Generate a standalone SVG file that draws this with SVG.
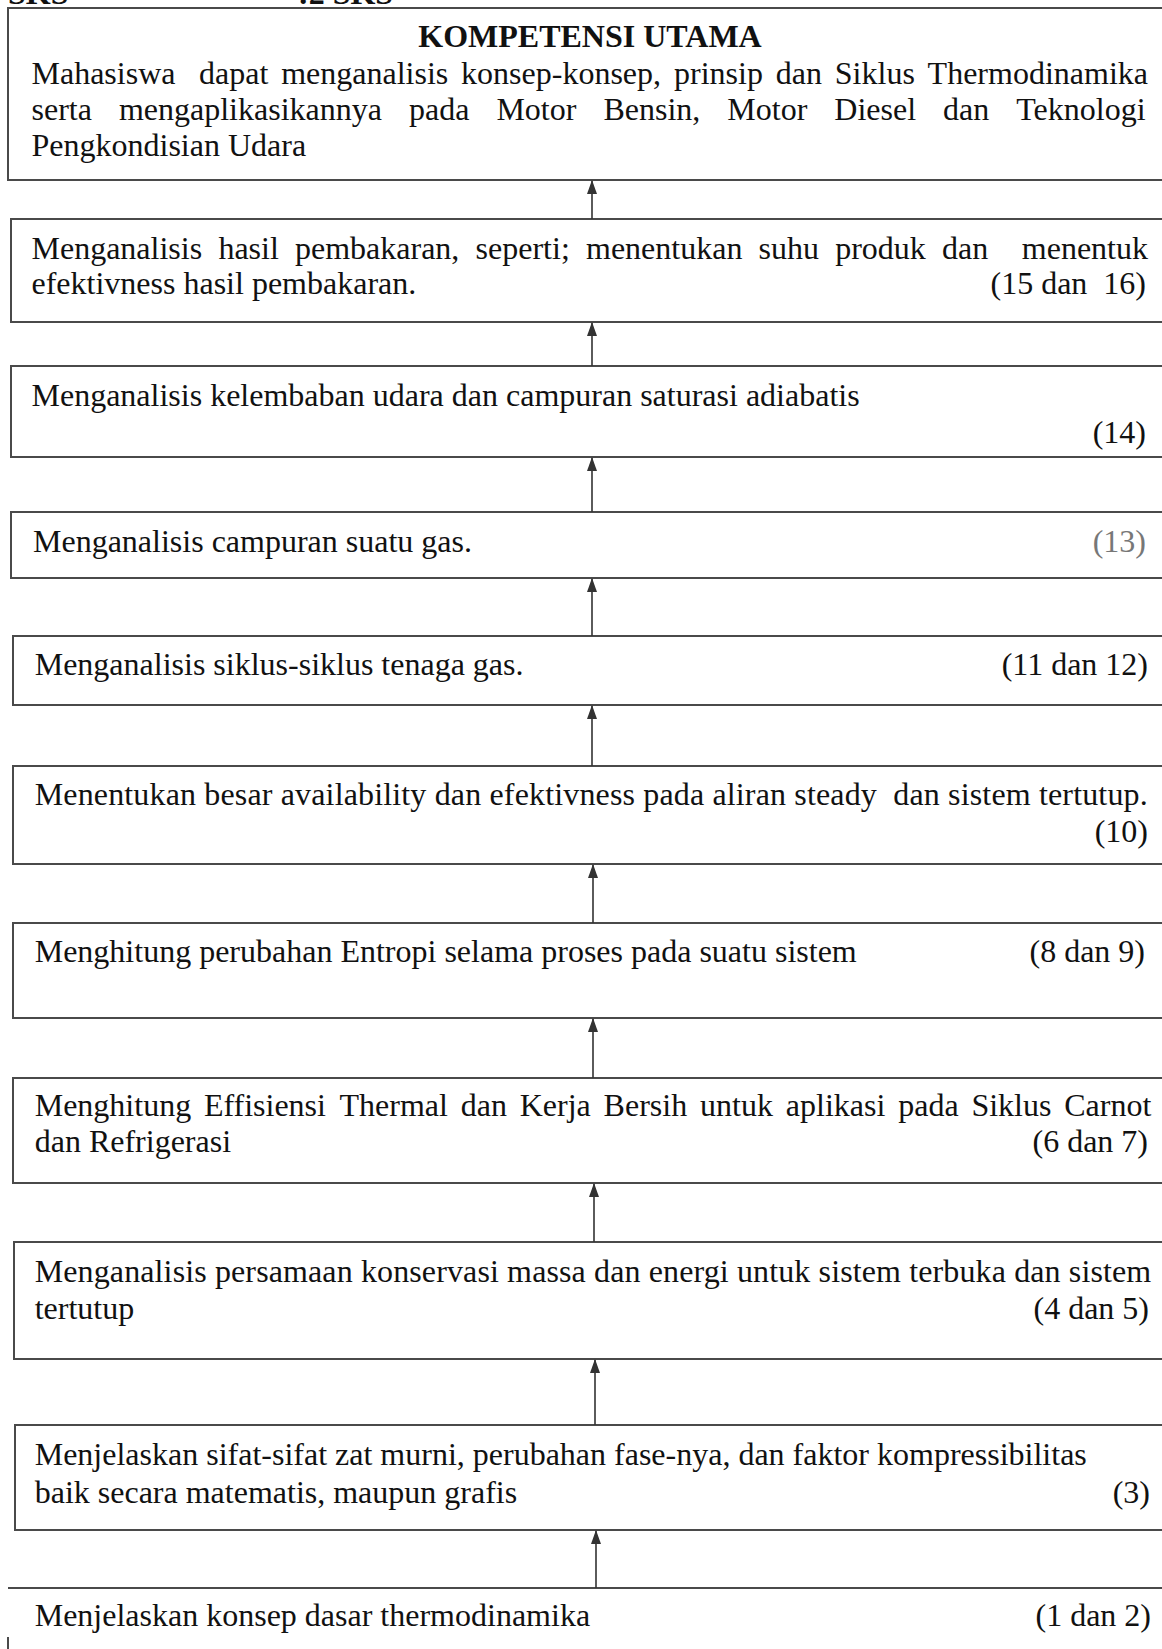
<svg xmlns="http://www.w3.org/2000/svg" width="1162" height="1649" viewBox="0 0 1162 1649">
<style>
.bx{fill:none;stroke:#4a4a4a;stroke-width:2}
.t{font-family:"Liberation Serif","Times New Roman",serif;font-size:32px;fill:#111}
.b{font-weight:bold}
.r{text-anchor:end}
.c{text-anchor:middle}
.ar{stroke:#333;stroke-width:1.6;fill:none}
</style>
<defs>
<marker id="ah" viewBox="0 0 14 10" refX="13" refY="5" markerWidth="14" markerHeight="10" orient="auto" markerUnits="userSpaceOnUse">
<path d="M0,0 L14,5 L0,10 z" fill="#333"/>
</marker>
</defs>
<rect width="1162" height="1649" fill="#fff"/>
<g id="header">
<text class="t b" x="8" y="3.5">SKS</text>
<text class="t b" x="298" y="3.5">:2 SKS</text>
</g>
<g id="n1">
<rect class="bx" x="8" y="8" width="1170" height="172"/>
<text class="t b c" x="590" y="47">KOMPETENSI UTAMA</text>
<text class="t" y="84"><tspan x="31.5">Mahasiswa</tspan><tspan x="199">dapat</tspan><tspan x="281.2">menganalisis</tspan><tspan x="461.1">konsep-konsep,</tspan><tspan x="674">prinsip</tspan><tspan x="775.7">dan</tspan><tspan x="834.8">Siklus</tspan><tspan x="927.6">Thermodinamika</tspan></text>
<text class="t" y="120"><tspan x="31.5">serta</tspan><tspan x="118.9">mengaplikasikannya</tspan><tspan x="409">pada</tspan><tspan x="496.4">Motor</tspan><tspan x="603.4">Bensin,</tspan><tspan x="727.3">Motor</tspan><tspan x="834.3">Diesel</tspan><tspan x="943.1">dan</tspan><tspan x="1016.3">Teknologi</tspan></text>
<text class="t" x="31.5" y="156">Pengkondisian Udara</text>
</g>
<g id="n2">
<rect class="bx" x="11" y="219" width="1170" height="103"/>
<text class="t" y="259"><tspan x="31.5">Menganalisis</tspan><tspan x="218.4">hasil</tspan><tspan x="295">pembakaran,</tspan><tspan x="475.6">seperti;</tspan><tspan x="586">menentukan</tspan><tspan x="758.6">suhu</tspan><tspan x="835.2">produk</tspan><tspan x="942.1">dan</tspan><tspan x="1021.8">menentuk</tspan></text>
<text class="t" x="31.5" y="294">efektivness hasil pembakaran.</text>
<text class="t r" x="1146" y="294" xml:space="preserve">(15 dan  16)</text>
</g>
<g id="n3">
<rect class="bx" x="11" y="366" width="1170" height="91"/>
<text class="t" x="31.5" y="406">Menganalisis kelembaban udara dan campuran saturasi adiabatis</text>
<text class="t r" x="1146" y="443">(14)</text>
</g>
<g id="n4">
<rect class="bx" x="11" y="512" width="1170" height="66"/>
<text class="t" x="33" y="552">Menganalisis campuran suatu gas.</text>
<text class="t r" x="1146" y="552" style="fill:#777">(13)</text>
</g>
<g id="n5">
<rect class="bx" x="13" y="636" width="1170" height="69"/>
<text class="t" x="34.7" y="675">Menganalisis siklus-siklus tenaga gas.</text>
<text class="t r" x="1148" y="675">(11 dan 12)</text>
</g>
<g id="n6">
<rect class="bx" x="13" y="766" width="1170" height="98"/>
<text class="t" x="34.7" y="805" textLength="1113" lengthAdjust="spacing" xml:space="preserve">Menentukan besar availability dan efektivness pada aliran steady  dan sistem tertutup.</text>
<text class="t r" x="1148" y="842">(10)</text>
</g>
<g id="n7">
<rect class="bx" x="13" y="923" width="1170" height="95"/>
<text class="t" x="34.7" y="962">Menghitung perubahan Entropi selama proses pada suatu sistem</text>
<text class="t r" x="1145" y="962">(8 dan 9)</text>
</g>
<g id="n8">
<rect class="bx" x="13" y="1078" width="1170" height="105"/>
<text class="t" y="1116"><tspan x="34.7">Menghitung</tspan><tspan x="203.9">Effisiensi</tspan><tspan x="339.5">Thermal</tspan><tspan x="460.7">dan</tspan><tspan x="519.7">Kerja</tspan><tspan x="603.6">Bersih</tspan><tspan x="700.1">untuk</tspan><tspan x="785.8">aplikasi</tspan><tspan x="898.2">pada</tspan><tspan x="971.4">Siklus</tspan><tspan x="1064.2">Carnot</tspan></text>
<text class="t" x="34.7" y="1152">dan Refrigerasi</text>
<text class="t r" x="1148" y="1152">(6 dan 7)</text>
</g>
<g id="n9">
<rect class="bx" x="14" y="1242" width="1170" height="117"/>
<text class="t" x="34.7" y="1282" textLength="1116.5" lengthAdjust="spacing">Menganalisis persamaan konservasi massa dan energi untuk sistem terbuka dan sistem</text>
<text class="t" x="34.7" y="1319">tertutup</text>
<text class="t r" x="1149" y="1319">(4 dan 5)</text>
</g>
<g id="n10">
<rect class="bx" x="15" y="1425" width="1170" height="105"/>
<text class="t" x="34.7" y="1465">Menjelaskan sifat-sifat zat murni, perubahan fase-nya, dan faktor kompressibilitas</text>
<text class="t" x="34.7" y="1503">baik secara matematis, maupun grafis</text>
<text class="t r" x="1150" y="1503">(3)</text>
</g>
<g id="n11">
<path class="bx" d="M8,1588 H1162 M8,1637 V1649"/>
<text class="t" x="34.7" y="1626">Menjelaskan konsep dasar thermodinamika</text>
<text class="t r" x="1151" y="1626">(1 dan 2)</text>
</g>
<g id="connectors">
<line class="ar" x1="592" y1="219" x2="592" y2="181" marker-end="url(#ah)"/>
<line class="ar" x1="592" y1="366" x2="592" y2="323" marker-end="url(#ah)"/>
<line class="ar" x1="592" y1="512" x2="592" y2="458" marker-end="url(#ah)"/>
<line class="ar" x1="592" y1="636" x2="592" y2="579" marker-end="url(#ah)"/>
<line class="ar" x1="592" y1="766" x2="592" y2="706" marker-end="url(#ah)"/>
<line class="ar" x1="593" y1="923" x2="593" y2="865" marker-end="url(#ah)"/>
<line class="ar" x1="593" y1="1078" x2="593" y2="1019" marker-end="url(#ah)"/>
<line class="ar" x1="594" y1="1242" x2="594" y2="1184" marker-end="url(#ah)"/>
<line class="ar" x1="595" y1="1425" x2="595" y2="1360" marker-end="url(#ah)"/>
<line class="ar" x1="596" y1="1588" x2="596" y2="1531" marker-end="url(#ah)"/>
</g>
</svg>
